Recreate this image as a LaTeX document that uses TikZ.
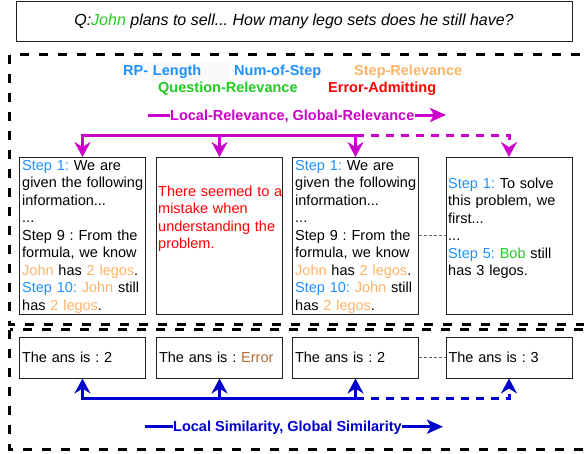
\documentclass[tikz,border=0pt]{standalone}
\usepackage{fontspec}
\setmainfont{Liberation Sans}
\usetikzlibrary{arrows.meta,calc}
\definecolor{stepblue}{HTML}{1E90FF}
\definecolor{orng}{HTML}{FFB366}
\definecolor{grn}{HTML}{1FCC1F}
\definecolor{redc}{HTML}{FF0000}
\definecolor{errbrown}{HTML}{B46A2F}
\definecolor{magc}{HTML}{CC00CC}
\definecolor{bluec}{HTML}{0000CC}
\definecolor{boxline}{HTML}{222222}
\frenchspacing
\begin{document}
\begin{tikzpicture}[x=1pt,y=-1pt,
  fnt/.style={font=\fontsize{14.5}{17.5}\selectfont\frenchspacing},
  bfnt/.style={font=\fontsize{14.5}{17.5}\selectfont\bfseries\frenchspacing},
  framebox/.style={draw=black,line width=3pt,dash pattern=on 9pt off 10pt},
  stepbox/.style={draw=boxline,line width=1pt,minimum width=126pt,minimum height=157pt,inner sep=0pt,outer sep=0pt,anchor=north west},
  ansbox/.style={draw=boxline,line width=1pt,minimum width=126pt,minimum height=41.5pt,inner xsep=2.5pt,inner ysep=0pt,outer sep=0pt,text width=121pt,align=left,anchor=north west,fnt},
  boxtext/.style={fnt,anchor=north west,inner sep=0pt,text width=140pt,align=left},
  legend/.style={bfnt,anchor=base west,inner sep=0pt},
  magline/.style={draw=magc,line width=3pt},
  blueline/.style={draw=bluec,line width=3pt},
  bracktip/.style={-{Stealth[length=15pt,width=16pt,inset=5pt]}},
  labtip/.style={-{Stealth[length=16pt,width=14pt,inset=4pt]}},
  brdash/.style={dash pattern=on 8pt off 7pt},
  dotc/.style={draw=black!60,line width=1pt,dash pattern=on 3pt off 2pt},
]
\useasboundingbox (0,0) rectangle (584,453);

% question
\node[draw=boxline,line width=1pt,minimum width=556pt,minimum height=40pt,inner sep=0pt,
      font=\fontsize{16}{19}\selectfont\frenchspacing] (q) at (294,21)
  {\itshape Q:\textcolor{grn}{John} plans to sell... How many lego sets does he still have?};

% frames
\draw[framebox] (9.5,54.5) rectangle (585,324.5);
\draw[framebox] (9.5,329.5) rectangle (585,449);

% legend
\node[legend,fill=black!2,text width=108pt,inner ysep=2pt] (rp) at (123,75) {\textcolor{stepblue}{RP- Length}};
\node[legend] (ns) at (234,75) {\textcolor{stepblue}{Num-of-Step}};
\node[legend] (sr) at (354,75) {\textcolor{orng}{Step-Relevance}};
\node[legend] (qr) at (158,92) {\textcolor{grn}{Question-Relevance}};
\node[legend] (ea) at (328,92) {\textcolor{redc}{Error-Admitting}};

% magenta label
\node[legend,text=magc] (lr) at (170,120.3) {Local-Relevance, Global-Relevance};
\coordinate (lrs) at (148,115);
\coordinate (lre) at (446,115);
\draw[magline] (lrs) -- (lrs -| lr.west);
\draw[magline,labtip] (lre -| lr.east) -- (lre);

% upper boxes
\node[stepbox] (b1) at (19.5,157) {};
\node[stepbox] (b2) at (156.5,157) {};
\node[stepbox] (b3) at (292.5,157) {};
\node[stepbox] (b4) at (446,157) {};

\node[boxtext] (t1) at ([shift={(2.5,0.75)}]b1.north west)
 {\strut\textcolor{stepblue}{Step 1:} We are\\
  given the following\\
  information...\\
  ...\\
  Step 9 : From the\\
  formula, we know\\
  \textcolor{orng}{John} has \textcolor{orng}{2 legos}.\\
  \textcolor{stepblue}{Step 10:} \textcolor{orng}{John} still\\
  has \textcolor{orng}{2 legos}.};
\node[boxtext,text=redc] (t2) at ([shift={(1.5,26.75)}]b2.north west)
 {\strut There seemed to a\\
  mistake when\\
  understanding the\\
  problem.};
\node[boxtext] (t3) at ([shift={(2.5,0.75)}]b3.north west)
 {\strut\textcolor{stepblue}{Step 1:} We are\\
  given the following\\
  information...\\
  ...\\
  Step 9 : From the\\
  formula, we know\\
  \textcolor{orng}{John} has \textcolor{orng}{2 legos}.\\
  \textcolor{stepblue}{Step 10:} \textcolor{orng}{John} still\\
  has \textcolor{orng}{2 legos}.};
\node[boxtext] (t4) at ([shift={(2,18.75)}]b4.north west)
 {\strut\textcolor{stepblue}{Step 1:} To solve\\
  this problem, we\\
  first...\\
  ...\\
  \textcolor{stepblue}{Step 5:} \textcolor{grn}{Bob} still\\
  has 3 legos.};

\draw[dotc] (b3.east) -- (b4.west);

% magenta bracket
\coordinate (hm) at (0,135.5);
\draw[magline,bracktip] (b3.north |- hm) -- (b1.north |- hm) -- (b1.north);
\draw[magline,bracktip] (b2.north |- hm) -- (b2.north);
\draw[magline,bracktip] (b3.north |- hm) -- (b3.north);
\draw[magline,brdash,bracktip] (b3.north |- hm) -- (b4.north |- hm) -- (b4.north);

% lower boxes
\node[ansbox] (a1) at (19.5,337) {The ans is : 2};
\node[ansbox] (a2) at (156.5,337) {The ans is : \textcolor{errbrown}{Error}};
\node[ansbox] (a3) at (292.5,337) {The ans is : 2};
\node[ansbox] (a4) at (446,337) {The ans is : 3};
\draw[dotc] (a3.east) -- (a4.west);

% blue bracket
\coordinate (hb) at (0,398.3);
\draw[blueline,bracktip] (a3.south |- hb) -- (a1.south |- hb) -- (a1.south);
\draw[blueline,bracktip] (a2.south |- hb) -- (a2.south);
\draw[blueline,bracktip] (a3.south |- hb) -- (a3.south);
\draw[blueline,brdash,bracktip] (a3.south |- hb) -- (a4.south |- hb) -- (a4.south);

% blue label
\node[legend,text=bluec] (ls) at (173,431.9) {Local Similarity, Global Similarity};
\coordinate (lss) at (144.5,426.7);
\coordinate (lse) at (443,426.7);
\draw[blueline] (lss) -- (lss -| ls.west);
\draw[blueline,labtip] (lse -| ls.east) -- (lse);
\end{tikzpicture}
\end{document}
